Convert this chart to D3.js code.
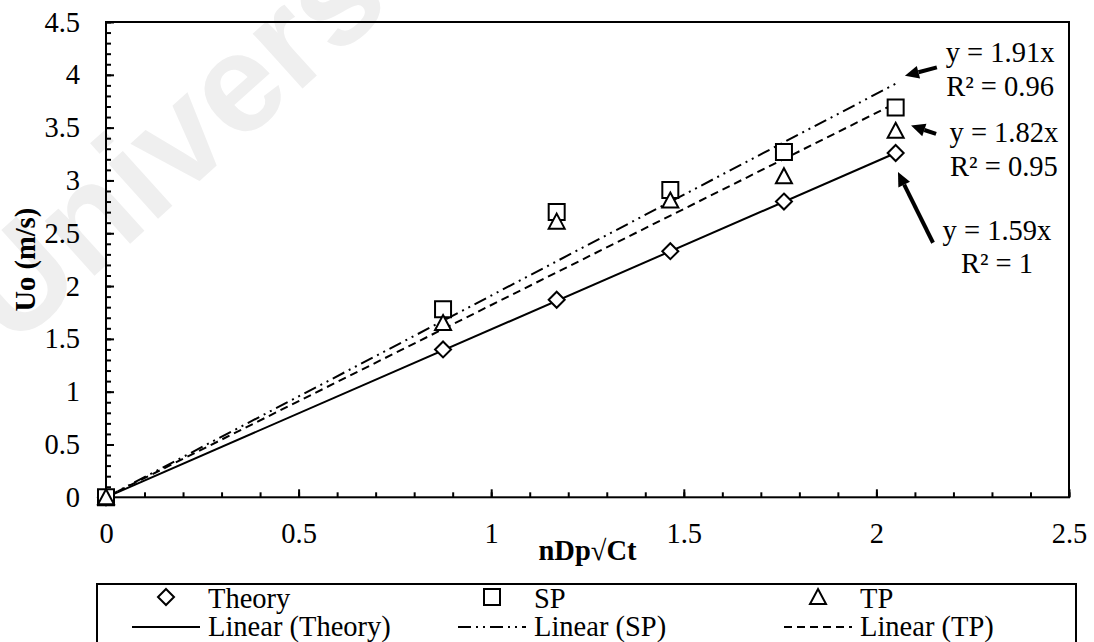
<!DOCTYPE html>
<html>
<meta charset="utf-8">
<head>
<script src="https://cdn.jsdelivr.net/npm/d3@7"></script>
<style>
  body { margin: 0; background: #fff; }
  svg text { font-family: "Liberation Serif", "Times New Roman", serif; fill: #000; }
</style>
</head>
<body>
<div id="chart"></div>
<script>
// data
var xVals = [0, 0.875, 1.17, 1.465, 1.76, 2.05];
var theory = [0, 1.40, 1.87, 2.33, 2.80, 3.26];
var sp = [0, 1.78, 2.70, 2.91, 3.27, 3.69];
var tp = [0, 1.65, 2.61, 2.81, 3.04, 3.47];
var slopes = [1.59, 1.91, 1.82];
var seriesNames = ["Theory", "SP", "TP"];
var xTicks = [0, 0.5, 1, 1.5, 2, 2.5];
var yTicks = [0, 0.5, 1, 1.5, 2, 2.5, 3, 3.5, 4, 4.5];

var W = 1094, H = 642, fs = 28.5;
var serif = "'Liberation Serif', 'Times New Roman', serif";

var svg = d3.select("#chart").append("svg")
    .attr("width", W).attr("height", H);

var x = d3.scaleLinear().domain([0, 2.5]).range([106, 1069]);
var y = d3.scaleLinear().domain([0, 4.5]).range([497.3, 22]);

// faint watermark
svg.append("text")
    .attr("transform", "translate(12,350) rotate(-42)")
    .style("font-family", "'Liberation Sans', Arial, sans-serif")
    .style("font-weight", "bold")
    .style("font-size", "140px")
    .style("fill", "#efefef")
    .text("Universiti");

// plot frame
svg.append("rect")
    .attr("x", x(0)).attr("y", y(4.5))
    .attr("width", x(2.5) - x(0)).attr("height", y(0) - y(4.5))
    .attr("fill", "none").attr("stroke", "#000").attr("stroke-width", 2);

// minor ticks
svg.append("g").attr("transform", "translate(0," + y(0) + ")")
    .call(d3.axisBottom(x).tickValues(d3.range(0, 2.51, 0.1)).tickSize(-5).tickFormat(""))
    .call(function(g) { g.select(".domain").remove(); g.selectAll("line").attr("stroke-width", 2); });
svg.append("g").attr("transform", "translate(" + x(0) + ",0)")
    .call(d3.axisLeft(y).tickValues(d3.range(0, 4.51, 0.1)).tickSize(-5).tickFormat(""))
    .call(function(g) { g.select(".domain").remove(); g.selectAll("line").attr("stroke-width", 2); });

// major ticks + labels
var xAxis = svg.append("g").attr("transform", "translate(0," + y(0) + ")")
    .call(d3.axisBottom(x).tickValues(xTicks).tickSize(-8).tickPadding(25.5).tickFormat(d3.format("")));
var yAxis = svg.append("g").attr("transform", "translate(" + x(0) + ",0)")
    .call(d3.axisLeft(y).tickValues(yTicks).tickSize(-8).tickPadding(26).tickFormat(d3.format("")));
[xAxis, yAxis].forEach(function(g) {
    g.attr("font-family", serif).attr("font-size", fs);
    g.select(".domain").remove();
    g.selectAll("line").attr("stroke-width", 2);
    g.selectAll("text").style("font-family", serif).style("font-size", fs + "px");
});

// axis titles
svg.append("text")
    .attr("x", (x(0) + x(2.5)) / 2).attr("y", 560)
    .attr("text-anchor", "middle")
    .style("font-size", fs + "px").style("font-weight", "bold")
    .text("nDp\u221ACt");
svg.append("text")
    .attr("transform", "translate(35," + (y(0) + y(4.5)) / 2 + ") rotate(-90)")
    .attr("text-anchor", "middle")
    .style("font-size", fs + "px").style("font-weight", "bold")
    .text("Uo (m/s)");

// trend lines
var dashes = [null, "13,5,2,5,2,5", "8,5"];
var xMax = d3.max(xVals);
slopes.forEach(function(m, i) {
    svg.append("line")
        .attr("x1", x(0)).attr("y1", y(0))
        .attr("x2", x(xMax)).attr("y2", y(m * xMax))
        .attr("stroke", "#000").attr("stroke-width", 2)
        .attr("stroke-dasharray", dashes[i]);
});

// marker shapes
function markerPath(kind) {
    if (kind === 0) return "M0,-8L8,0L0,8L-8,0Z";
    if (kind === 1) return "M-8,-8H8V8H-8Z";
    return "M0,-8L8,7H-8Z";
}
[theory, sp, tp].forEach(function(vals, i) {
    svg.append("g").selectAll("path")
        .data(vals)
        .enter()
        .append("path")
        .attr("transform", function(d, j) { return "translate(" + x(xVals[j]) + "," + y(d) + ")"; })
        .attr("d", markerPath(i))
        .attr("fill", "#fff").attr("stroke", "#000").attr("stroke-width", 2);
});

// equation labels and arrows (data units)
var labels = [
    { eq: "y = 1.91x", r2: "R\u00B2 = 0.96", cx: 2.321, b1: 4.12, b2: 3.80, from: [2.157, 4.07], to: [2.074, 3.99] },
    { eq: "y = 1.82x", r2: "R\u00B2 = 0.95", cx: 2.331, b1: 3.36, b2: 3.04, from: [2.155, 3.44], to: [2.09, 3.52] },
    { eq: "y = 1.59x", r2: "R\u00B2 = 1", cx: 2.313, b1: 2.436, b2: 2.12, from: [2.147, 2.41], to: [2.056, 3.08] }
];
labels.forEach(function(l) {
    svg.append("text").attr("x", x(l.cx)).attr("y", y(l.b1))
        .attr("text-anchor", "middle").style("font-size", fs + "px").text(l.eq);
    svg.append("text").attr("x", x(l.cx)).attr("y", y(l.b2))
        .attr("text-anchor", "middle").style("font-size", fs + "px").text(l.r2);
    var x1 = x(l.from[0]), y1 = y(l.from[1]), x2 = x(l.to[0]), y2 = y(l.to[1]);
    var a = Math.atan2(y2 - y1, x2 - x1), hl = 14, hw = 6.5;
    var bx = x2 - hl * Math.cos(a), by = y2 - hl * Math.sin(a);
    svg.append("line").attr("x1", x1).attr("y1", y1).attr("x2", bx).attr("y2", by)
        .attr("stroke", "#000").attr("stroke-width", 4);
    svg.append("path")
        .attr("d", "M" + x2 + "," + y2 +
            "L" + (bx - hw * Math.sin(a)) + "," + (by + hw * Math.cos(a)) +
            "L" + (bx + hw * Math.sin(a)) + "," + (by - hw * Math.cos(a)) + "Z")
        .attr("fill", "#000");
});

// legend
var legend = svg.append("g");
legend.append("rect")
    .attr("x", 97).attr("y", 584).attr("width", 979).attr("height", 80)
    .attr("fill", "#fff").attr("stroke", "#000").attr("stroke-width", 2);
var colX = [208, 534, 860];
seriesNames.forEach(function(name, i) {
    var tx = colX[i];
    legend.append("path")
        .attr("transform", "translate(" + (tx - 42) + ",597)")
        .attr("d", markerPath(i))
        .attr("fill", "#fff").attr("stroke", "#000").attr("stroke-width", 2);
    legend.append("text").attr("x", tx).attr("y", 608)
        .style("font-size", fs + "px").text(name);
    legend.append("line")
        .attr("x1", tx - 76).attr("x2", tx - 8).attr("y1", 627).attr("y2", 627)
        .attr("stroke", "#000").attr("stroke-width", 2)
        .attr("stroke-dasharray", dashes[i]);
    legend.append("text").attr("x", tx).attr("y", 636)
        .style("font-size", fs + "px").text("Linear (" + name + ")");
});
</script>
</body>
</html>
